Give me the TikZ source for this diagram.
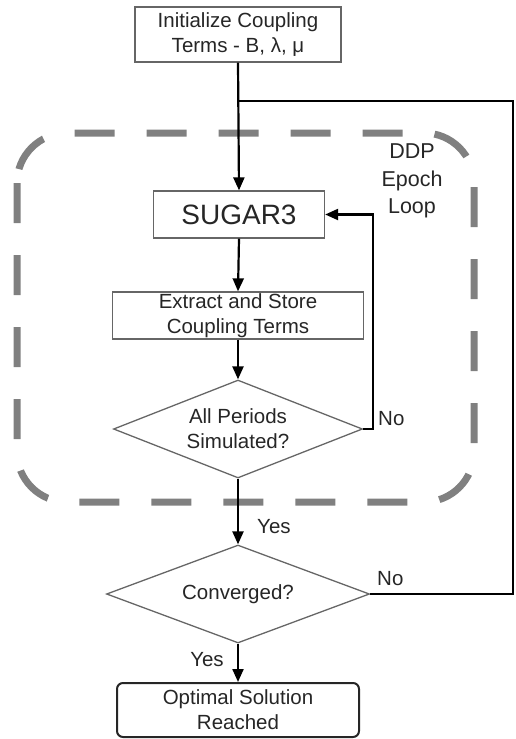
\documentclass[tikz,border=0pt]{standalone}
\usepackage{fontspec}
\setmainfont{Liberation Sans}
\usetikzlibrary{shapes.geometric,arrows.meta}
\begin{document}
\begin{tikzpicture}[x=1pt,y=-1pt,
  txt/.style={text=black!85,font=\fontsize{20.5}{25}\selectfont},
  procbox/.style={txt,draw=black!60,line width=1.3pt,rectangle,inner sep=0pt,align=center},
  decision/.style={txt,draw=black!60,line width=1.3pt,diamond,inner sep=0pt,align=center,aspect=2.5},
  endbox/.style={procbox,draw=black!85,line width=2pt,rounded corners=6pt},
  flow/.style={draw=black,line width=2.2pt},
  arr/.style={flow,-{Triangle[length=13pt,width=11pt]}},
  loopframe/.style={draw=black!50,line width=7pt,rounded corners=50pt,dash pattern=on 40pt off 32pt},
  lbl/.style={txt,inner sep=0pt}]
\useasboundingbox (0,0) rectangle (515,739);

% epoch loop frame
\draw[loopframe] (17,133) rectangle (474,502);

% process steps
\node[procbox,minimum width=206pt,minimum height=55pt] (init) at (238,34.5)
  {Initialize Coupling\\Terms - B, λ, μ};
\node[procbox,minimum width=171pt,minimum height=47pt,font=\fontsize{28}{32}\selectfont] (sugar) at (239,214.5) {SUGAR3};
\node[procbox,minimum width=251pt,minimum height=47pt] (extract) at (238,315.5)
  {Extract and Store\\Coupling Terms};
\node[decision,minimum width=249pt,minimum height=98pt] (periods) at (238,429)
  {All Periods\\Simulated?};
\node[decision,minimum width=263pt,minimum height=98pt] (conv) at (238,594) {Converged?};
\node[endbox,minimum width=242pt,minimum height=54pt] (opt) at (238,710)
  {Optimal Solution\\Reached};

% routing points
\coordinate (join) at (238,101);
\coordinate (rtop) at (513,101);
\coordinate (nb) at (373,0);

% main flow
\draw[arr] (init.south) -- (sugar.north);
\draw[arr] (sugar.south) -- (extract.north);
\draw[arr] (extract.south) -- (periods.north);
\draw[arr] (periods.south) -- (conv.north);
\draw[arr] (conv.south) -- (opt.north);

% inner loop back to SUGAR3
\draw[arr] (periods.east) -- (periods.east -| nb) |- (sugar.east);

% outer loop back after the initialisation
\draw[flow] (conv.east) -- (conv.east -| rtop) -- (rtop) -- (join);

% labels
\node[lbl,anchor=west] (no1) at (378,419) {No};
\node[lbl,anchor=west] (yes1) at (257,527) {Yes};
\node[lbl,anchor=west] (no2) at (377,579) {No};
\node[lbl] (yes2) at (207,660) {Yes};
\node[lbl,align=center,font=\fontsize{21.5}{27.5}\selectfont] (ddp) at (412,181) {DDP\\Epoch\\Loop};
\end{tikzpicture}
\end{document}
